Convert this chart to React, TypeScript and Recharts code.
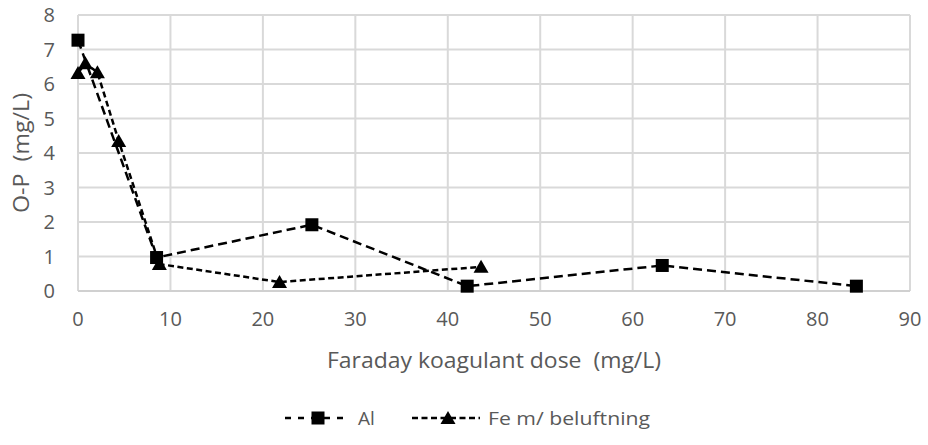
import { LineChart, Line, XAxis, YAxis, CartesianGrid, Label } from "recharts";

// Al series
const alDose = [0, 8.5, 25.3, 42.1, 63.2, 84.2];
const alOP = [7.27, 0.97, 1.92, 0.14, 0.74, 0.14];
// Fe m/ beluftning series
const feDose = [0, 0.8, 2.1, 4.4, 8.8, 21.8, 43.6];
const feOP = [6.32, 6.6, 6.34, 4.35, 0.78, 0.26, 0.7];

const xTicks = [0, 10, 20, 30, 40, 50, 60, 70, 80, 90];
const yTicks = [0, 1, 2, 3, 4, 5, 6, 7, 8];

const alData = alDose.map((x, i) => ({ x, y: alOP[i] }));
const feData = feDose.map((x, i) => ({ x, y: feOP[i] }));

const FONT = "'Open Sans', sans-serif";
const GREY = "#595959";
const AL_DASH = "9 5";
const FE_DASH = "6 3.5";

const Square = (props: any) => {
  const { cx, cy, key } = props;
  if (cx == null || cy == null) return null;
  return <rect key={key} x={cx - 6.5} y={cy - 6.5} width={13} height={13} fill="#000" />;
};

const Triangle = (props: any) => {
  const { cx, cy, key } = props;
  if (cx == null || cy == null) return null;
  return <path key={key} d={`M${cx},${cy - 7} L${cx + 7.5},${cy + 6} L${cx - 7.5},${cy + 6} Z`} fill="#000" />;
};

const XTitle = ({ viewBox }: any) => (
  <text x={viewBox.x + viewBox.width / 2 - 167} y={368} fill={GREY} fontSize={22} fontFamily={FONT} textLength={334} lengthAdjust="spacingAndGlyphs" style={{ whiteSpace: "pre" }}>
    Faraday koagulant dose  (mg/L)
  </text>
);

const YTitle = ({ viewBox }: any) => {
  const cx = 21;
  const cy = viewBox.y + viewBox.height / 2;
  return (
    <text x={cx} y={cy + 60} transform={`rotate(-90 ${cx} ${cy + 60})`} dominantBaseline="central" fill={GREY} fontSize={21} fontFamily={FONT} textLength={120} lengthAdjust="spacingAndGlyphs" style={{ whiteSpace: "pre" }}>
      O-P  (mg/L)
    </text>
  );
};

export default function App() {
  return (
    <div style={{ position: "absolute", left: 0, top: 0, width: 928, height: 445, background: "#fff", fontFamily: FONT }}>
      <LineChart width={928} height={445} margin={{ top: 15, right: 18, left: 30, bottom: 104 }}>
        <CartesianGrid stroke="#d9d9d9" strokeWidth={2} />
        <XAxis
          type="number"
          dataKey="x"
          domain={[0, 90]}
          ticks={xTicks}
          tickLine={false}
          axisLine={{ stroke: "#d0d0d0", strokeWidth: 2 }}
          tick={{ fill: GREY, fontSize: 20, fontFamily: FONT }}
          tickMargin={15}
          height={50}
        >
          <Label content={XTitle} />
        </XAxis>
        <YAxis
          type="number"
          dataKey="y"
          domain={[0, 8]}
          ticks={yTicks}
          tickLine={false}
          axisLine={false}
          tick={{ fill: GREY, fontSize: 20, fontFamily: FONT }}
          tickMargin={17}
          width={48}
        >
          <Label content={YTitle} />
        </YAxis>
        <Line
          data={alData}
          dataKey="y"
          stroke="#000"
          strokeWidth={2.5}
          strokeDasharray={AL_DASH}
          dot={Square}
          activeDot={false}
          isAnimationActive={false}
        />
        <Line
          data={feData}
          dataKey="y"
          stroke="#000"
          strokeWidth={2.5}
          strokeDasharray={FE_DASH}
          dot={Triangle}
          activeDot={false}
          isAnimationActive={false}
        />
      </LineChart>
      <svg width={928} height={40} style={{ position: "absolute", left: 0, top: 398 }}>
        <line x1={285} y1={20} x2={349} y2={20} stroke="#000" strokeWidth={2.5} strokeDasharray="6 7" />
        <rect x={311.5} y={13.5} width={13} height={13} fill="#000" />
        <text x={358} y={27} fill={GREY} fontSize={19} fontFamily={FONT}>Al</text>
        <line x1={412} y1={20} x2={480} y2={20} stroke="#000" strokeWidth={2.5} strokeDasharray="6 3.5" />
        <path d="M448,13 L455.5,26 L440.5,26 Z" fill="#000" />
        <text x={488} y={27} fill={GREY} fontSize={19} fontFamily={FONT} textLength={162} lengthAdjust="spacingAndGlyphs">Fe m/ beluftning</text>
      </svg>
    </div>
  );
}
